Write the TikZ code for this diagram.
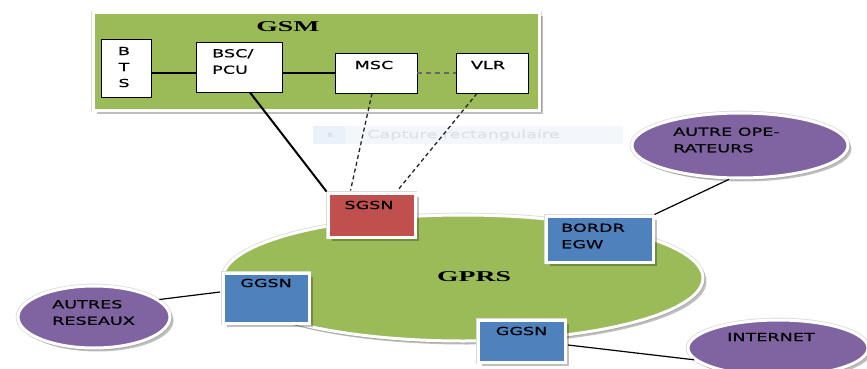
\documentclass[tikz,border=0pt]{standalone}
\usepackage{fontspec}
\usetikzlibrary{shapes.geometric,shadows,calc}
\newfontfamily\lblfont[FakeStretch=1.6,FakeBold=0.6]{DejaVu Sans}
\newfontfamily\ttlfont[FakeStretch=1.85]{Liberation Serif}
\definecolor{netgreen}{HTML}{9BBB59}
\definecolor{netred}{HTML}{C0504D}
\definecolor{netblue}{HTML}{4F81BD}
\definecolor{netpurple}{HTML}{8064A2}
\definecolor{capband}{HTML}{F3F7FC}
\definecolor{capbox}{HTML}{EAF1FA}
\definecolor{captext}{HTML}{DCE2EA}
\tikzset{
  rim/.style={draw=white, line width=3pt,
    preaction={draw=black!14, line width=4.6pt},
    drop shadow={shadow xshift=3.5pt, shadow yshift=-3.5pt, fill=black, opacity=0.25}},
  gsmbox/.style={rectangle, rim, fill=netgreen, inner sep=0pt},
  unitbox/.style={rectangle, draw=black, line width=0.9pt, fill=white, inner sep=0pt},
  netbox/.style={rectangle, rim, inner sep=0pt},
  cloud/.style={ellipse, rim, fill=netpurple, inner sep=0pt},
  lbl/.style={font=\lblfont\fontsize{11}{16.5}\selectfont, inner sep=0pt},
  lbll/.style={lbl, align=left, anchor=west},
  ttl/.style={font=\ttlfont\bfseries\fontsize{15}{18}\selectfont, inner sep=0pt},
  link/.style={draw=black, line width=1.2pt},
  biglink/.style={draw=black, line width=2pt},
  softlink/.style={draw=black!60, line width=1.1pt, dash pattern=on 5pt off 4pt},
  sublink/.style={draw=black!85, line width=1.3pt, dash pattern=on 4pt off 3pt},
}
\begin{document}
\begin{tikzpicture}[x=1pt,y=-1pt]
\useasboundingbox (0,0) rectangle (867,369);

% faint screen-capture tooltip behind the links
\fill[capband] (313,126) rectangle (623,144);
\fill[capbox] (313,126) rectangle (345,144);
\fill[captext] (330,135) circle (2.5);
\node[lbl, text=captext, anchor=west] (capt) at (367,135) {Capture rectangulaire};

% GSM part
\node[gsmbox, minimum width=446, minimum height=97] (gsm) at (316.5,61.5) {};
\node[ttl] (gsmt) at (288,27) {GSM};
\node[unitbox, minimum width=50, minimum height=58] (bts) at (126,68) {};
\node[unitbox, minimum width=86, minimum height=50] (bsc) at (239,67) {};
\node[unitbox, minimum width=82, minimum height=40] (msc) at (376,73) {};
\node[unitbox, minimum width=72, minimum height=40] (vlr) at (492,73) {};
\node[lbl] (btsb) at (124,51) {B};
\node[lbl] (btst) at (124,67) {T};
\node[lbl] (btss) at (124,83) {S};
\node[lbll] (bsct) at (212,61.5) {BSC/\\PCU};
\node[lbl] (msct) at (374,65) {MSC};
\node[lbl] (vlrt) at (488,65) {VLR};

% GPRS core and outside networks
\node[ellipse, rim, fill=netgreen, minimum width=480, minimum height=126, inner sep=0pt] (gprs) at (463,278) {};
\node[ttl] (gprst) at (474,277) {GPRS};
\node[cloud, minimum width=216, minimum height=65] (ao) at (740,145.5) {};
\node[cloud, minimum width=152, minimum height=62] (ar) at (94,317) {};
\node[cloud, minimum width=180, minimum height=56] (inet) at (778,348) {};
\node[lbll] (aot) at (673,140) {AUTRE OPE-\\RATEURS};
\node[lbll] (art) at (52,312.5) {AUTRES\\RESEAUX};
\node[lbl] (inett) at (771,337) {INTERNET};

% links inside GSM
\draw[link] (bts.east |- msc.west) -- (bsc.west |- msc.west);
\draw[link] (bsc.east |- msc.west) -- (msc.west);
\draw[softlink] (msc.east) -- (vlr.west);

% GPRS nodes
\node[netbox, fill=netred, minimum width=87, minimum height=44] (sg) at (371.5,215) {};
\node[netbox, fill=netblue, minimum width=86, minimum height=50] (gl) at (266,298) {};
\node[netbox, fill=netblue, minimum width=107, minimum height=46] (bordr) at (599.5,239) {};
\node[netbox, fill=netblue, minimum width=87, minimum height=42] (gb) at (521.5,341) {};
\node[lbl] (sgt) at (369,205) {SGSN};
\node[lbl] (glt) at (266,283) {GGSN};
\node[lbll] (bordrt) at (561,236) {BORDR\\EGW};
\node[lbl] (gbt) at (521.5,331) {GGSN};

% links between GSM, GPRS and outside networks
\draw[biglink] ($(bsc.south)+(11,0)$) -- (sg.north west);
\draw[sublink] ($(msc.south)+(-4,0)$) -- ($(sg.north)+(-21,-1)$);
\draw[sublink] ($(vlr.south)+(-15,0)$) -- ($(sg.north)+(26,-1)$);
\draw[link] (ao.252) -- (bordr.north east);
\draw[link] ($(gl.west)+(-1.5,-6)$) -- (ar.15);
\draw[link] ($(gb.east)+(1.5,4)$) -- (inet.188);
\end{tikzpicture}
\end{document}
